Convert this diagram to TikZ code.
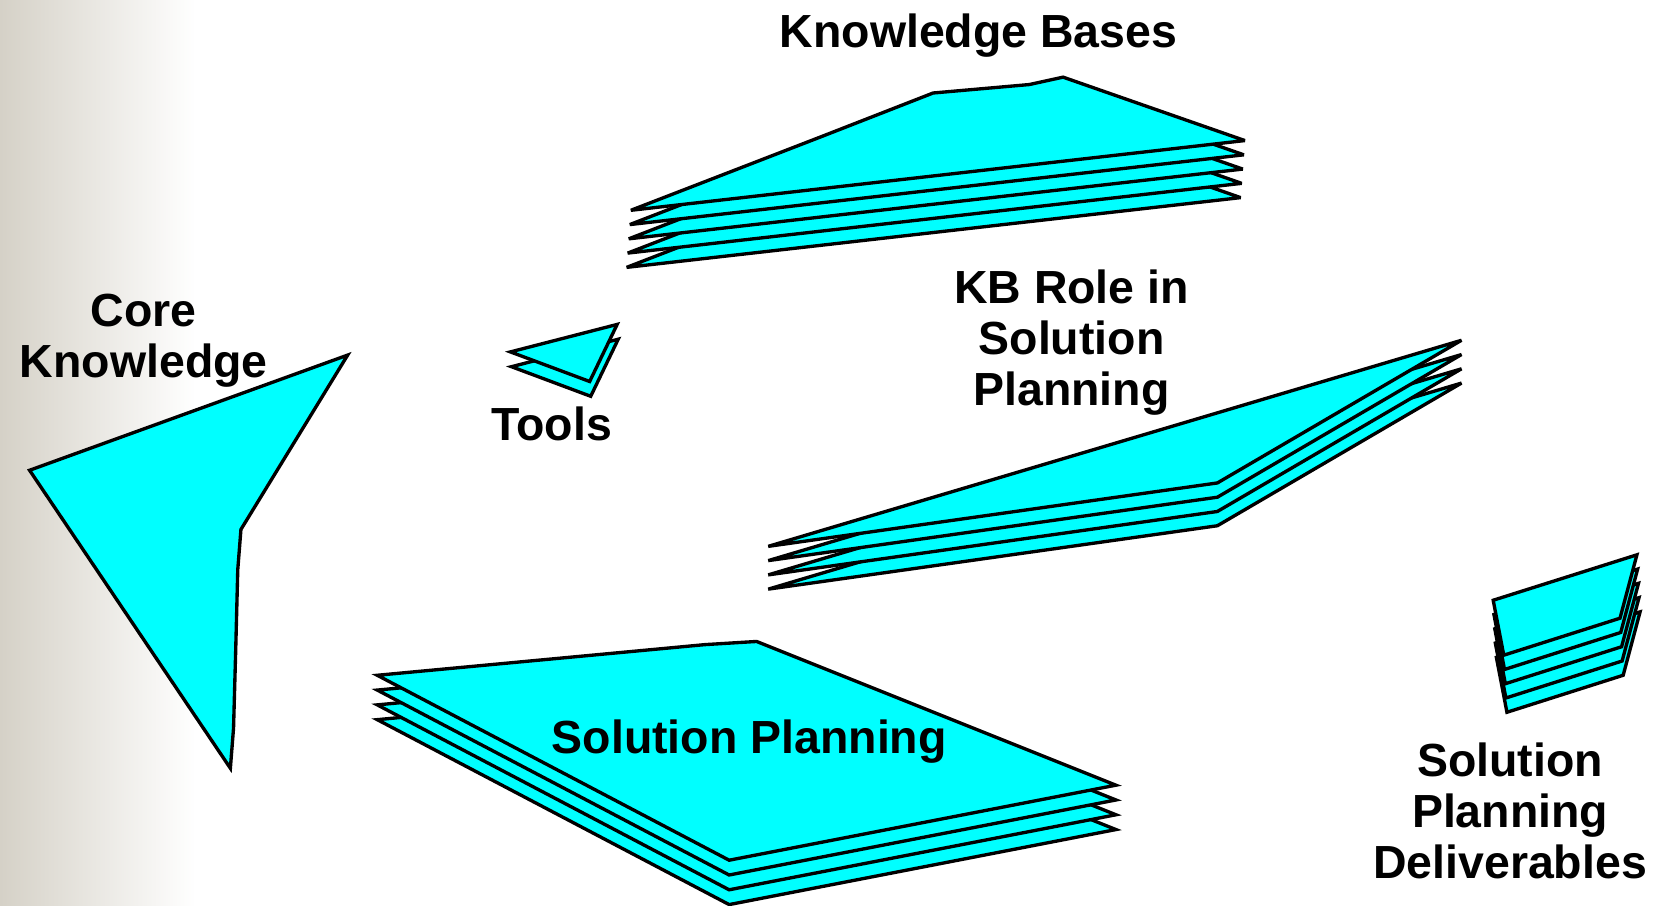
\documentclass[tikz,border=0pt]{standalone}
\usepackage{fontspec}
\setmainfont{Liberation Sans}
\usepackage{xcolor}
\usepackage{tikz}

\definecolor{sheetcyan}{RGB}{0,255,255}
\definecolor{edgegray}{RGB}{213,209,199}

\begin{document}
\begin{tikzpicture}[x=0.01cm, y=-0.01cm]
  \tikzstyle{every node}=[font=\fontsize{12.5}{13.7}\selectfont\bfseries, align=center, inner sep=0pt]
  \tikzstyle{sheet}=[fill=sheetcyan, draw=black, line width=0.9pt, miter limit=4]
  \useasboundingbox (0,0) rectangle (1568,857);
  \shade[left color=edgegray, right color=white] (0,0) rectangle (185,857);

  % core knowledge
  \filldraw[sheet] (28,445) -- (329,336) -- (228,501) -- (225,539) -- (223,617) -- (221,689) -- (218,727) -- cycle;
  \node[anchor=base] (Core) at (136,357) {Core\\Knowledge};

  % tools
  \filldraw[sheet, shift={(1,14)}] (483,333) -- (584,307) -- (558,361) -- cycle;
  \filldraw[sheet] (483,333) -- (584,307) -- (558,361) -- cycle;
  \node[anchor=base] (Tools) at (522,417) {Tools};

  % knowledge bases
  \filldraw[sheet, shift={(-4,54)}] (597,199) -- (778,129) -- (883,88) -- (974,80) -- (1006,73) -- (1178,133) -- cycle;
  \filldraw[sheet, shift={(-3,40.5)}] (597,199) -- (778,129) -- (883,88) -- (974,80) -- (1006,73) -- (1178,133) -- cycle;
  \filldraw[sheet, shift={(-2,27)}] (597,199) -- (778,129) -- (883,88) -- (974,80) -- (1006,73) -- (1178,133) -- cycle;
  \filldraw[sheet, shift={(-1,13.5)}] (597,199) -- (778,129) -- (883,88) -- (974,80) -- (1006,73) -- (1178,133) -- cycle;
  \filldraw[sheet] (597,199) -- (778,129) -- (883,88) -- (974,80) -- (1006,73) -- (1178,133) -- cycle;
  \node[anchor=base] (KBases) at (926,45) {Knowledge Bases};

  % kb role
  \filldraw[sheet, shift={(0,40.5)}] (727,517) -- (1383,322) -- (1152,457) -- cycle;
  \filldraw[sheet, shift={(0,27)}] (727,517) -- (1383,322) -- (1152,457) -- cycle;
  \filldraw[sheet, shift={(0,13.5)}] (727,517) -- (1383,322) -- (1152,457) -- cycle;
  \filldraw[sheet] (727,517) -- (1383,322) -- (1152,457) -- cycle;
  \node[anchor=base] (KBRole) at (1014,384) {KB Role in\\Solution\\Planning};

  % solution planning
  \filldraw[sheet, shift={(0,42)}] (357,639) -- (667,610) -- (716,607) -- (1056,743) -- (690,814) -- cycle;
  \filldraw[sheet, shift={(0,28)}] (357,639) -- (667,610) -- (716,607) -- (1056,743) -- (690,814) -- cycle;
  \filldraw[sheet, shift={(0,14)}] (357,639) -- (667,610) -- (716,607) -- (1056,743) -- (690,814) -- cycle;
  \filldraw[sheet] (357,639) -- (667,610) -- (716,607) -- (1056,743) -- (690,814) -- cycle;
  \node[anchor=base] (SolPlan) at (709,713) {Solution Planning};

  % deliverables
  \filldraw[sheet, shift={(3,54)}] (1413,568) -- (1549,525) -- (1533,585) -- (1423,620) -- cycle;
  \filldraw[sheet, shift={(2,40.5)}] (1413,568) -- (1549,525) -- (1533,585) -- (1423,620) -- cycle;
  \filldraw[sheet, shift={(1.5,27)}] (1413,568) -- (1549,525) -- (1533,585) -- (1423,620) -- cycle;
  \filldraw[sheet, shift={(0.7,13.5)}] (1413,568) -- (1549,525) -- (1533,585) -- (1423,620) -- cycle;
  \filldraw[sheet] (1413,568) -- (1549,525) -- (1533,585) -- (1423,620) -- cycle;
  \node[anchor=base] (Deliv) at (1429,831) {Solution\\Planning\\Deliverables};
\end{tikzpicture}
\end{document}
